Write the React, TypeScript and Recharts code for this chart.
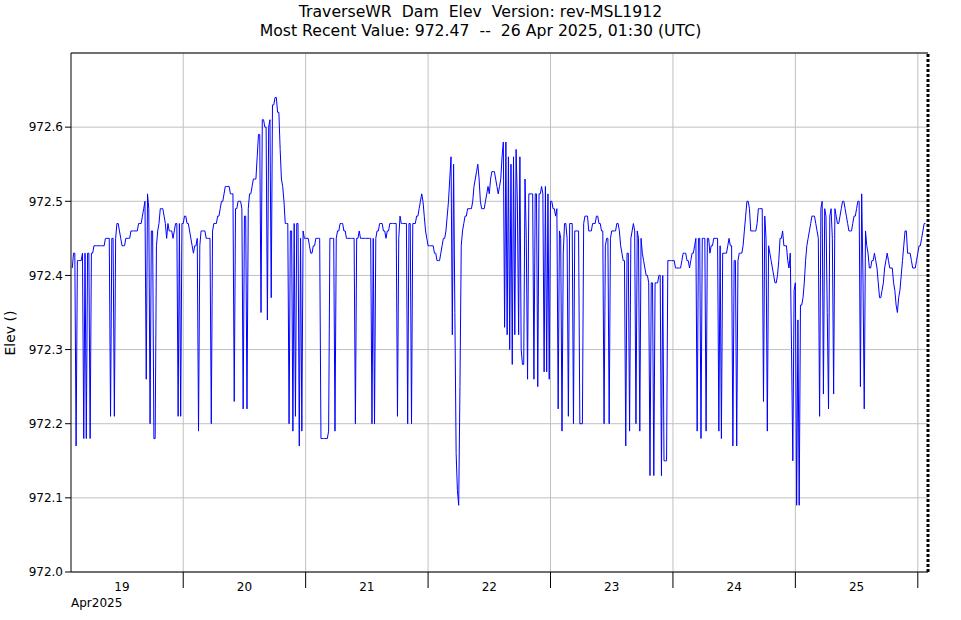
import { CartesianGrid, Line, LineChart, ReferenceLine, XAxis, YAxis } from "recharts"

// 15-minute readings, hours counted from 19 Apr 2025 00:00 UTC
const FIRST_HOUR = 2.25
const STEP_HOURS = 0.25

const APR19 = [
  972.41, 972.43, 972.43, 972.17, 972.42, 972.42, 972.42, 972.42, 972.43, 972.18,
  972.43, 972.18, 972.43, 972.43, 972.18, 972.43, 972.43, 972.44, 972.44, 972.44,
  972.44, 972.44, 972.44, 972.44, 972.44, 972.44, 972.45, 972.45, 972.45, 972.45,
  972.21, 972.45, 972.45, 972.21, 972.45, 972.47, 972.47, 972.46, 972.45, 972.44,
  972.44, 972.44, 972.45, 972.45, 972.45, 972.45, 972.46, 972.46, 972.46, 972.46,
  972.46, 972.46, 972.47, 972.47, 972.47, 972.48, 972.49, 972.50, 972.26, 972.51,
  972.49, 972.20, 972.46, 972.46, 972.18, 972.18, 972.44, 972.46, 972.47, 972.49,
  972.49, 972.49, 972.48, 972.47, 972.45, 972.47, 972.46, 972.46, 972.46, 972.45,
  972.46, 972.47, 972.47, 972.21, 972.47, 972.21, 972.47,
]
const APR20 = [
  972.47, 972.48, 972.48, 972.47, 972.47, 972.46, 972.45, 972.44, 972.43, 972.44,
  972.44, 972.45, 972.19, 972.44, 972.46, 972.46, 972.46, 972.46, 972.45, 972.45,
  972.45, 972.45, 972.20, 972.46, 972.47, 972.47, 972.47, 972.48, 972.48, 972.49,
  972.50, 972.50, 972.51, 972.52, 972.52, 972.52, 972.52, 972.51, 972.51, 972.51,
  972.23, 972.49, 972.49, 972.50, 972.50, 972.50, 972.49, 972.22, 972.48, 972.48,
  972.22, 972.49, 972.51, 972.51, 972.52, 972.53, 972.53, 972.53, 972.56, 972.59,
  972.59, 972.35, 972.61, 972.61, 972.60, 972.60, 972.34, 972.60, 972.61, 972.37,
  972.63, 972.63, 972.64, 972.64, 972.62, 972.62, 972.57, 972.53, 972.52, 972.50,
  972.47, 972.47, 972.47, 972.20, 972.46, 972.46, 972.19, 972.47, 972.21, 972.47,
  972.47, 972.17, 972.45, 972.19, 972.46, 972.45,
]
const APR21 = [
  972.45, 972.45, 972.45, 972.44, 972.43, 972.43, 972.44, 972.44, 972.45, 972.45,
  972.45, 972.45, 972.18, 972.18, 972.18, 972.18, 972.18, 972.18, 972.19, 972.45,
  972.45, 972.45, 972.45, 972.19, 972.45, 972.46, 972.46, 972.47, 972.47, 972.47,
  972.46, 972.46, 972.45, 972.45, 972.45, 972.45, 972.45, 972.45, 972.45, 972.20,
  972.45, 972.45, 972.46, 972.45, 972.45, 972.45, 972.45, 972.45, 972.45, 972.45,
  972.45, 972.45, 972.20, 972.45, 972.20, 972.45, 972.46, 972.46, 972.47, 972.47,
  972.47, 972.46, 972.46, 972.45, 972.46, 972.46, 972.47, 972.47, 972.47, 972.47,
  972.47, 972.47, 972.21, 972.45, 972.48, 972.47, 972.47, 972.47, 972.47, 972.47,
  972.20, 972.47, 972.47, 972.20, 972.47, 972.47, 972.47, 972.48, 972.48, 972.49,
  972.50, 972.51, 972.50, 972.48, 972.46, 972.45,
]
const APR22 = [
  972.44, 972.44, 972.44, 972.44, 972.44, 972.43, 972.43, 972.42, 972.42, 972.42,
  972.43, 972.44, 972.45, 972.45, 972.46, 972.48, 972.50, 972.53, 972.56, 972.32,
  972.55, 972.35, 972.16, 972.11, 972.09, 972.25, 972.44, 972.46, 972.47, 972.48,
  972.48, 972.49, 972.49, 972.49, 972.49, 972.50, 972.52, 972.53, 972.54, 972.55,
  972.53, 972.50, 972.49, 972.49, 972.49, 972.50, 972.51, 972.52, 972.51, 972.53,
  972.54, 972.54, 972.54, 972.53, 972.52, 972.51, 972.52, 972.53, 972.56, 972.58,
  972.33, 972.58, 972.32, 972.56, 972.30, 972.55, 972.28, 972.56, 972.32, 972.57,
  972.50, 972.32, 972.56, 972.30, 972.28, 972.28, 972.53, 972.45, 972.26, 972.51,
  972.51, 972.51, 972.51, 972.26, 972.51, 972.51, 972.25, 972.51, 972.51, 972.52,
  972.51, 972.27, 972.52, 972.27, 972.51, 972.26,
]
const APR23 = [
  972.50, 972.50, 972.49, 972.49, 972.48, 972.49, 972.22, 972.46, 972.45, 972.19,
  972.43, 972.47, 972.47, 972.45, 972.21, 972.47, 972.47, 972.47, 972.20, 972.46,
  972.46, 972.46, 972.46, 972.20, 972.20, 972.20, 972.47, 972.48, 972.48, 972.48,
  972.46, 972.46, 972.46, 972.47, 972.47, 972.47, 972.48, 972.48, 972.47, 972.47,
  972.46, 972.46, 972.20, 972.44, 972.45, 972.45, 972.20, 972.45, 972.46, 972.46,
  972.46, 972.46, 972.47, 972.47, 972.46, 972.44, 972.43, 972.42, 972.42, 972.17,
  972.43, 972.43, 972.19, 972.45, 972.46, 972.47, 972.46, 972.20, 972.46, 972.45,
  972.19, 972.45, 972.43, 972.42, 972.41, 972.40, 972.40, 972.39, 972.13, 972.39,
  972.39, 972.13, 972.39, 972.39, 972.39, 972.40, 972.40, 972.13, 972.40, 972.15,
  972.15, 972.15, 972.42, 972.42, 972.42, 972.42,
]
const APR24 = [
  972.42, 972.42, 972.41, 972.41, 972.41, 972.41, 972.41, 972.42, 972.43, 972.43,
  972.43, 972.42, 972.42, 972.41, 972.42, 972.43, 972.43, 972.44, 972.45, 972.19,
  972.45, 972.45, 972.18, 972.45, 972.45, 972.45, 972.19, 972.45, 972.45, 972.43,
  972.44, 972.44, 972.45, 972.45, 972.45, 972.45, 972.19, 972.44, 972.18, 972.43,
  972.43, 972.43, 972.43, 972.44, 972.45, 972.44, 972.44, 972.17, 972.42, 972.42,
  972.17, 972.42, 972.43, 972.43, 972.43, 972.44, 972.46, 972.48, 972.50, 972.50,
  972.49, 972.46, 972.46, 972.46, 972.46, 972.46, 972.47, 972.49, 972.49, 972.49,
  972.49, 972.23, 972.48, 972.45, 972.19, 972.44, 972.43, 972.42, 972.41, 972.40,
  972.39, 972.39, 972.40, 972.42, 972.45, 972.45, 972.46, 972.44, 972.44, 972.44,
  972.42, 972.41, 972.43, 972.30, 972.15, 972.38,
]
const APR25 = [
  972.39, 972.09, 972.34, 972.09, 972.36, 972.36, 972.37, 972.39, 972.42, 972.44,
  972.45, 972.46, 972.47, 972.48, 972.48, 972.48, 972.47, 972.46, 972.45, 972.21,
  972.49, 972.50, 972.24, 972.49, 972.48, 972.35, 972.22, 972.48, 972.49, 972.45,
  972.24, 972.49, 972.48, 972.47, 972.47, 972.48, 972.49, 972.50, 972.50, 972.49,
  972.48, 972.47, 972.46, 972.46, 972.46, 972.47, 972.48, 972.48, 972.49, 972.50,
  972.50, 972.25, 972.51, 972.40, 972.22, 972.46, 972.44, 972.43, 972.41, 972.41,
  972.42, 972.42, 972.43, 972.42, 972.41, 972.39, 972.37, 972.37, 972.38, 972.39,
  972.41, 972.42, 972.43, 972.42, 972.41, 972.41, 972.41, 972.39, 972.38, 972.36,
  972.35, 972.37, 972.38, 972.40, 972.42, 972.44, 972.46, 972.46, 972.43, 972.43,
  972.43, 972.42, 972.41, 972.41, 972.41, 972.42,
]
const APR26 = [972.43, 972.44, 972.44, 972.45, 972.46, 972.47, 972.47]

const READINGS = [...APR19, ...APR20, ...APR21, ...APR22, ...APR23, ...APR24, ...APR25, ...APR26]

const X_DOMAIN: [number, number] = [2, 170]
const MIDNIGHTS = [24, 48, 72, 96, 120, 144, 168]
const NOONS = [12, 36, 60, 84, 108, 132, 156]
const DAY_LABELS = ["19", "20", "21", "22", "23", "24", "25"]
const Y_TICKS = [972.0, 972.1, 972.2, 972.3, 972.4, 972.5, 972.6]
const Y_TOP = 972.7

const data = READINGS.map((v, i) => ({ t: FIRST_HOUR + i * STEP_HOURS, elev: v }))

const FONT = "'DejaVu Sans', sans-serif"
const GRID = "#c0c0c0"

function DayTick({ x, y, payload }: any) {
  const i = NOONS.indexOf(payload.value)
  if (i < 0) return <line x1={x} x2={x} y1={y} y2={y + 16} stroke="#000" />
  return (
    <text x={x} y={y + 19} textAnchor="middle" fontSize={12} fontFamily={FONT} fill="#000">
      {DAY_LABELS[i]}
    </text>
  )
}

export default function App() {
  return (
    <div style={{ position: "absolute", left: 0, top: 0, width: 961, height: 620, background: "#fff", fontFamily: FONT, color: "#000" }}>
      <div style={{ position: "absolute", left: 0, top: 3, width: 961, textAlign: "center", fontSize: 15.7, lineHeight: "18px", whiteSpace: "pre" }}>
        {"TraverseWR  Dam  Elev  Version: rev-MSL1912"}
      </div>
      <div style={{ position: "absolute", left: 0, top: 22, width: 961, textAlign: "center", fontSize: 15.7, lineHeight: "18px", whiteSpace: "pre" }}>
        {"Most Recent Value: 972.47  --  26 Apr 2025, 01:30 (UTC)"}
      </div>
      <div style={{ position: "absolute", left: -40, top: 325, width: 100, height: 16, lineHeight: "16px", fontSize: 14, textAlign: "center", transform: "rotate(-90deg)" }}>
        Elev ()
      </div>
      <div style={{ position: "absolute", left: 71, top: 596, fontSize: 12, lineHeight: "14px" }}>Apr2025</div>

      <LineChart width={961} height={620} data={data} margin={{ top: 53, right: 33, bottom: 0, left: 0 }}>
        <CartesianGrid vertical={false} stroke={GRID} />
        {MIDNIGHTS.map((m) => (
          <ReferenceLine key={m} x={m} stroke={GRID} />
        ))}
        <XAxis
          type="number" dataKey="t" domain={X_DOMAIN} allowDataOverflow
          ticks={[...NOONS, ...MIDNIGHTS].sort((a, b) => a - b)} interval={0}
          tick={<DayTick />} tickLine={false} tickSize={0} tickMargin={0}
          height={48} axisLine={{ stroke: "#000" }}
        />
        <YAxis
          type="number" domain={[972.0, Y_TOP]} ticks={Y_TICKS} interval={0} allowDataOverflow
          width={71} tickSize={6} tickMargin={2}
          tick={{ fontSize: 12, fontFamily: FONT, fill: "#000" }}
          tickLine={{ stroke: "#000" }} axisLine={{ stroke: "#000" }}
          tickFormatter={(v: number) => v.toFixed(1)}
        />
        <ReferenceLine y={Y_TOP} stroke="#000" />
        <ReferenceLine x={X_DOMAIN[1]} stroke="#000" strokeWidth={3} strokeDasharray="3 2" />
        <Line type="linear" dataKey="elev" stroke="#0000ff" strokeWidth={1} dot={false} isAnimationActive={false} />
      </LineChart>
    </div>
  )
}
